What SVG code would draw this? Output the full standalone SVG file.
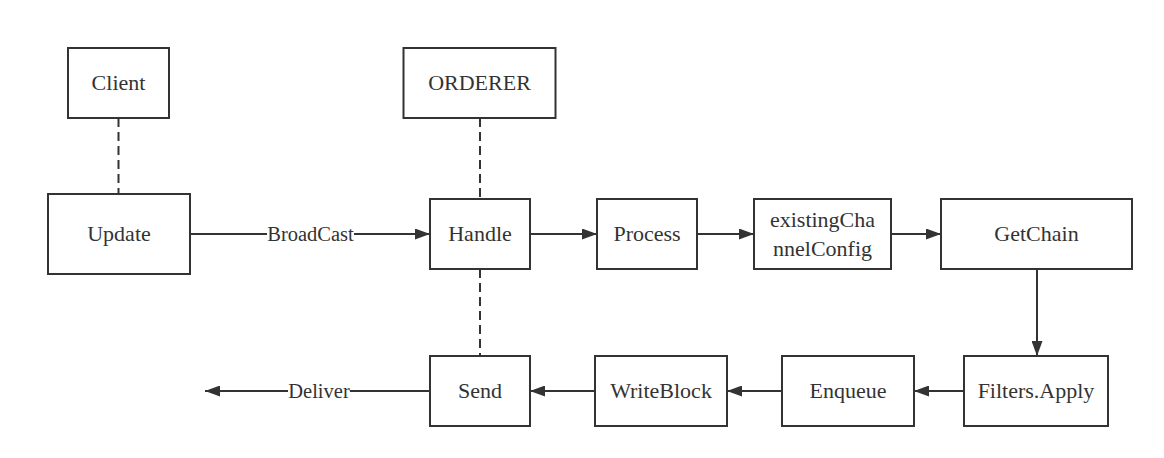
<svg xmlns="http://www.w3.org/2000/svg" width="1164" height="458" viewBox="0 0 1164 458">
  <style>
    .box { fill: #ffffff; stroke: #333333; stroke-width: 2; }
    .t { font-family: "Liberation Serif", "DejaVu Serif", "Times New Roman", serif; font-size: 22px; fill: #333333; text-anchor: middle; }
    .lbl { font-family: "Liberation Serif", "DejaVu Serif", "Times New Roman", serif; font-size: 20.5px; fill: #333333; text-anchor: middle; }
    .conn { stroke: #333333; stroke-width: 2; fill: none; }
    .arrow { marker-end: url(#ah); }
    .dash { stroke-dasharray: 9 5; }
    .bg { fill: #ffffff; }
  </style>
  <defs>
    <marker id="ah" markerUnits="userSpaceOnUse" markerWidth="16" markerHeight="11" refX="15" refY="5.5" orient="auto">
      <path d="M0,0 L15,5.5 L0,11 z" fill="#333333"/>
    </marker>
  </defs>
  <rect width="1164" height="458" fill="#ffffff"/>

  <g id="connectors">
    <line class="conn dash" x1="118.5" y1="118" x2="118.5" y2="194"/>
    <line class="conn dash" x1="480" y1="118" x2="480" y2="199"/>
    <line class="conn dash" x1="480" y1="269" x2="480" y2="356"/>
    <line class="conn arrow" x1="190" y1="234" x2="430" y2="234"/>
    <rect class="bg" x="267" y="224" width="87" height="20"/>
    <text class="lbl" x="310.5" y="241">BroadCast</text>
    <line class="conn arrow" x1="530" y1="234" x2="597" y2="234"/>
    <line class="conn arrow" x1="697" y1="234" x2="754" y2="234"/>
    <line class="conn arrow" x1="891" y1="234" x2="941" y2="234"/>
    <line class="conn arrow" x1="1037" y1="269" x2="1037" y2="356"/>
    <line class="conn arrow" x1="964" y1="391" x2="914" y2="391"/>
    <line class="conn arrow" x1="782" y1="391" x2="727" y2="391"/>
    <line class="conn arrow" x1="595" y1="391" x2="530" y2="391"/>
    <line class="conn arrow" x1="430" y1="391" x2="205" y2="391"/>
    <rect class="bg" x="288" y="381" width="62" height="20"/>
    <text class="lbl" x="319" y="398">Deliver</text>
  </g>

  <g id="client">
    <rect class="box" x="68" y="48" width="101" height="70"/>
    <text class="t" x="118.5" y="90">Client</text>
  </g>
  <g id="orderer">
    <rect class="box" x="403.5" y="48" width="152" height="70"/>
    <text class="t" x="479.5" y="90">ORDERER</text>
  </g>
  <g id="update">
    <rect class="box" x="48" y="194" width="142" height="80"/>
    <text class="t" x="119" y="241">Update</text>
  </g>
  <g id="handle">
    <rect class="box" x="430" y="199" width="100" height="70"/>
    <text class="t" x="480" y="241">Handle</text>
  </g>
  <g id="process">
    <rect class="box" x="597" y="199" width="100" height="70"/>
    <text class="t" x="647" y="241">Process</text>
  </g>
  <g id="existingChannelConfig">
    <rect class="box" x="754" y="199" width="137" height="70"/>
    <text class="t" x="822.5" y="227">existingCha</text>
    <text class="t" x="822.5" y="255.5">nnelConfig</text>
  </g>
  <g id="getchain">
    <rect class="box" x="941" y="199" width="191" height="70"/>
    <text class="t" x="1036.5" y="241">GetChain</text>
  </g>
  <g id="filtersapply">
    <rect class="box" x="964" y="356" width="144" height="70"/>
    <text class="t" x="1036" y="398">Filters.Apply</text>
  </g>
  <g id="enqueue">
    <rect class="box" x="782" y="356" width="132" height="70"/>
    <text class="t" x="848" y="398">Enqueue</text>
  </g>
  <g id="writeblock">
    <rect class="box" x="595" y="356" width="132" height="70"/>
    <text class="t" x="661" y="398">WriteBlock</text>
  </g>
  <g id="send">
    <rect class="box" x="430" y="356" width="100" height="70"/>
    <text class="t" x="480" y="398">Send</text>
  </g>
</svg>
